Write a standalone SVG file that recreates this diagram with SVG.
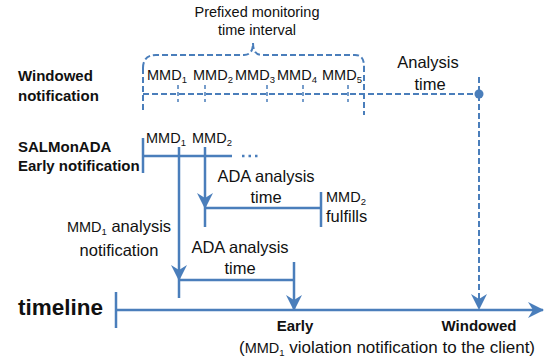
<svg xmlns="http://www.w3.org/2000/svg" width="554" height="364" viewBox="0 0 554 364">
<style>
text{font-family:"Liberation Sans",Arial,sans-serif;fill:#111;}
.b{font-weight:bold;font-size:15px;}
.t{font-size:16.5px;}
.m{font-size:14.5px;}
.s{font-size:9.5px;}
.sol{stroke:#4a7ebb;stroke-width:2.5;fill:none;}
.dsh{stroke:#4a7ebb;stroke-width:2;fill:none;stroke-dasharray:6 3;}
.tk{stroke:#4a7ebb;stroke-width:1.5;fill:none;stroke-dasharray:4 3;}
</style>
<defs>
<marker id="ah" viewBox="0 0 16 16" refX="15" refY="8" markerWidth="16" markerHeight="16" markerUnits="userSpaceOnUse" orient="auto">
<path d="M0,0 L16,8 L0,16 L5,8 z" fill="#4a7ebb"/>
</marker>
</defs>
<rect width="554" height="364" fill="#fff"/>

<g id="labels-left">
<text class="b" x="18" y="81">Windowed</text>
<text class="b" x="18" y="101">notification</text>
<text class="b" x="18" y="152">SALMonADA</text>
<text class="b" x="18" y="171">Early notification</text>
<text x="18" y="315" style="font-weight:bold;font-size:22.5px">timeline</text>
</g>

<g id="interval-label">
<text x="257" y="17" text-anchor="middle" style="font-size:14.5px">Prefixed monitoring</text>
<text x="257" y="35" text-anchor="middle" style="font-size:14.5px">time interval</text>
</g>

<g id="windowed-row">
<text class="m" x="147" y="80">MMD<tspan class="s" dy="3">1</tspan></text>
<text class="m" x="193" y="80">MMD<tspan class="s" dy="3">2</tspan></text>
<text class="m" x="235" y="80">MMD<tspan class="s" dy="3">3</tspan></text>
<text class="m" x="277" y="80">MMD<tspan class="s" dy="3">4</tspan></text>
<text class="m" x="322" y="80">MMD<tspan class="s" dy="3">5</tspan></text>
<text class="t" x="428" y="68" text-anchor="middle">Analysis</text>
<text class="t" x="430" y="90" text-anchor="middle">time</text>
</g>

<g id="early-row">
<text class="m" x="146" y="143">MMD<tspan class="s" dy="3">1</tspan></text>
<text class="m" x="192" y="143">MMD<tspan class="s" dy="3">2</tspan></text>
</g>

<g id="ada1-label">
<text class="t" x="266" y="182" text-anchor="middle">ADA analysis</text>
<text class="t" x="266" y="203" text-anchor="middle">time</text>
<text class="m" x="326" y="202">MMD<tspan class="s" dy="3">2</tspan></text>
<text class="t" x="326" y="222">fulfills</text>
</g>

<g id="mmd1-label">
<text class="t" x="119" y="232" text-anchor="middle"><tspan class="m">MMD</tspan><tspan class="s" dy="3">1</tspan><tspan dy="-3"> analysis</tspan></text>
<text class="t" x="119" y="256" text-anchor="middle">notification</text>
</g>

<g id="ada2-label">
<text class="t" x="240" y="253" text-anchor="middle">ADA analysis</text>
<text class="t" x="240" y="274" text-anchor="middle">time</text>
</g>

<g id="bottom-labels">
<text class="b" x="295" y="331" text-anchor="middle">Early</text>
<text class="b" x="479" y="331" text-anchor="middle">Windowed</text>
<text x="387" y="353" text-anchor="middle" style="font-size:17px">(<tspan class="m">MMD</tspan><tspan class="s" dy="3">1</tspan><tspan dy="-3"> violation notification to the client)</tspan></text>
</g>

<g id="connectors">
<!-- brace -->
<path class="dsh" d="M143,68 Q143,55 156,55 L244,55 Q253,55 253,43 Q253,55 262,55 L355,55 Q364,55 364,66"/>
<line class="dsh" x1="143" y1="68" x2="143" y2="113"/>
<line class="dsh" x1="364" y1="66" x2="364" y2="115"/>
<!-- windowed dashed line -->
<line class="dsh" x1="143" y1="94" x2="479" y2="94"/>
<line class="tk" x1="178" y1="85" x2="178" y2="102"/>
<line class="tk" x1="205" y1="85" x2="205" y2="102"/>
<line class="tk" x1="267" y1="85" x2="267" y2="102"/>
<line class="tk" x1="303" y1="85" x2="303" y2="102"/>
<line class="tk" x1="348" y1="85" x2="348" y2="102"/>
<circle cx="479" cy="94" r="4.5" fill="#4a7ebb"/>
<line class="dsh" x1="479" y1="77" x2="479" y2="309" marker-end="url(#ah)"/>
<!-- early row -->
<line class="sol" x1="143" y1="138" x2="143" y2="173"/>
<line class="sol" x1="143" y1="156" x2="232" y2="156"/>
<line x1="242" y1="156" x2="258" y2="156" stroke="#4a7ebb" stroke-width="2.5" stroke-dasharray="2.5 4"/>
<line class="sol" x1="205" y1="147" x2="205" y2="208" marker-end="url(#ah)"/>
<line class="sol" x1="205" y1="208" x2="205" y2="227"/>
<line class="sol" x1="205" y1="208" x2="321" y2="208"/>
<line class="sol" x1="321" y1="192" x2="321" y2="227"/>
<line class="sol" x1="179" y1="147" x2="179" y2="280" marker-end="url(#ah)"/>
<line class="sol" x1="179" y1="280" x2="179" y2="298"/>
<line class="sol" x1="179" y1="280" x2="294" y2="280"/>
<line class="sol" x1="294" y1="262" x2="294" y2="310" marker-end="url(#ah)"/>
<!-- timeline -->
<line class="sol" x1="116" y1="292" x2="116" y2="328"/>
<line class="sol" x1="116" y1="310" x2="543" y2="310" marker-end="url(#ah)"/>
</g>
</svg>
